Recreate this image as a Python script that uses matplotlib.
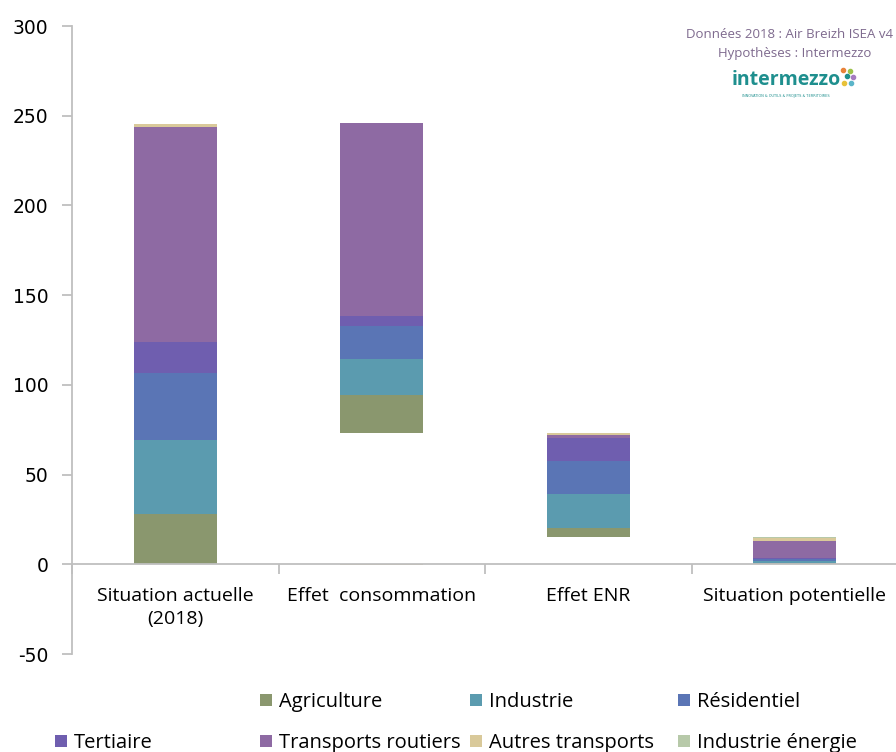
import numpy as np
import matplotlib
matplotlib.use('Agg')
import matplotlib.pyplot as plt
from matplotlib.patches import Patch
from matplotlib.lines import Line2D

plt.rcParams['axes.unicode_minus'] = False

# categories and stacked values (waterfall: invisible base + sectors)
categories = ['Situation actuelle\n(2018)', 'Effet  consommation', 'Effet ENR', 'Situation potentielle']
base = [0, 72.9, 15.2, 0]

sectors = ['Agriculture', 'Industrie', 'Résidentiel', 'Tertiaire',
           'Transports routiers', 'Autres transports', 'Industrie énergie']
agriculture = [28.3, 21.4, 5.3, 0.8]
industrie = [40.9, 19.9, 18.9, 1.2]
residentiel = [37.2, 18.7, 18.2, 1.0]
tertiaire = [17.6, 5.4, 13.0, 0.6]
transports_routiers = [119.9, 107.5, 1.5, 9.4]
autres_transports = [1.3, -0.6, 1.1, 1.9]
industrie_energie = [0.1, 0.0, 0.0, 0.1]

colors = ['#8A976E', '#5B9BAF', '#5A75B5', '#6F5EAF', '#8E6AA3', '#D9C99A', '#B7C9A9']

series = [agriculture, industrie, residentiel, tertiaire,
          transports_routiers, autres_transports, industrie_energie]

fig = plt.figure(figsize=(8.96, 7.52), dpi=100)
ax = fig.add_axes([72/896, 98/752, 826/896, 628/752])

x = np.arange(len(categories))
pos_bottom = np.array(base, dtype=float)
neg_bottom = np.zeros(len(categories))
for vals, c, name in zip(series, colors, sectors):
    v = np.array(vals, dtype=float)
    bottom = np.where(v >= 0, pos_bottom, neg_bottom)
    ax.bar(x, v, width=0.4, bottom=bottom, color=c, label=name, linewidth=0)
    pos_bottom += np.clip(v, 0, None)
    neg_bottom += np.clip(v, None, 0)

ax.set_xlim(-0.5, 3.5)
ax.set_ylim(-50, 300)
ax.set_yticks(np.arange(-50, 301, 50))

gray = '#BFBFBF'
for s in ['top', 'right']:
    ax.spines[s].set_visible(False)
ax.spines['bottom'].set_position(('data', 0))
ax.spines['bottom'].set_color(gray)
ax.spines['left'].set_color(gray)
ax.spines['bottom'].set_linewidth(1.3)
ax.spines['left'].set_linewidth(1.3)

ax.tick_params(axis='y', direction='out', length=7, color=gray, width=1.3,
               labelsize=13.5, pad=10)
ax.set_xticks(x)
ax.set_xticklabels(categories, fontfamily='Open Sans', fontsize=14, linespacing=1.42)
ax.tick_params(axis='x', which='major', length=0, pad=16)
ax.set_xticks(np.arange(-0.5, 3.6, 1), minor=True)
ax.tick_params(axis='x', which='minor', direction='out', length=7, color=gray, width=1.3)

# legend: 4 columns, first slot empty (base series)
handles = [Patch(facecolor='none', edgecolor='none')] + \
          [Patch(facecolor=c, edgecolor='none') for c in colors]
labels = [' '] + sectors
col_x = [55, 260, 470, 678]
for i in range(4):
    fig.legend([handles[i], handles[i + 4]], [labels[i], labels[i + 4]],
               loc='upper left', bbox_to_anchor=(col_x[i]/896, 1 - 692/752),
               frameon=False, borderpad=0, borderaxespad=0,
               handlelength=0.6, handleheight=0.6, handletextpad=0.35,
               labelspacing=1.05, prop={'family': 'Open Sans', 'size': 14.5})

# source notes and logo
note_color = '#7E6A8E'
fig.text(893/896, 1 - 34/752, 'Données 2018 : Air Breizh ISEA v4', ha='right', va='center',
         fontsize=9.5, color=note_color, fontfamily='Open Sans')
fig.text(795/896, 1 - 54/752, 'Hypothèses : Intermezzo', ha='center', va='center',
         fontsize=9.5, color=note_color, fontfamily='Open Sans')
fig.text(786/896, 1 - 80/752, 'intermezzo', ha='center', va='center',
         fontsize=14, color='#1E8F8E', fontweight='bold', fontfamily='Open Sans')
fig.text(786/896, 1 - 96/752, 'INNOVATION & OUTILS & PROJETS & TERRITOIRES', ha='center',
         va='center', fontsize=2.5, color='#1E8F8E')
for (dx, dy, c) in [(843, 70, '#E8833A'), (850, 71, '#9CC24A'), (847, 76, '#1E8F8E'),
                    (853, 77, '#A57BC0'), (844, 83, '#E8C23A'), (851, 83, '#5BB5C9')]:
    fig.add_artist(Line2D([dx/896], [1 - dy/752], marker='o', markersize=3,
                          color=c, linestyle='none', transform=fig.transFigure))

plt.savefig('out.png', dpi=100)
